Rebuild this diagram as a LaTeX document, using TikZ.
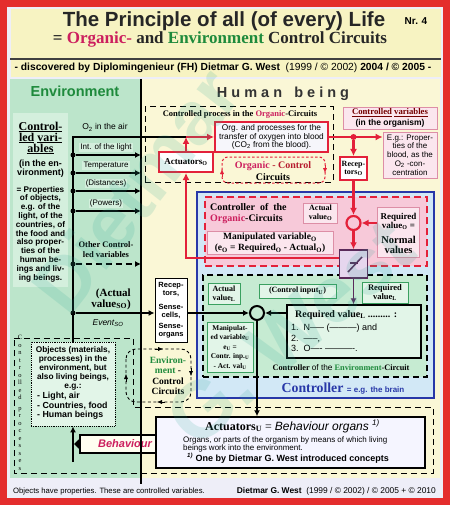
\documentclass[tikz,border=0pt]{standalone}
\usepackage{fontspec}
\setmainfont{Liberation Serif}
\setsansfont{Liberation Sans}
\usepackage{xcolor}
\usetikzlibrary{arrows.meta,calc}

\definecolor{frame}{HTML}{E42D2D}
\definecolor{lav}{HTML}{EEEEF8}
\definecolor{titley}{HTML}{F7F3C2}
\definecolor{envgreen}{HTML}{BCE5CB}
\definecolor{envlight}{HTML}{D4EFDD}
\definecolor{humany}{HTML}{FAF7D6}
\definecolor{orgred}{HTML}{E3213A}
\definecolor{magent}{HTML}{CC1F5E}
\definecolor{darkgreen}{HTML}{1E8A3C}
\definecolor{ctrlblue}{HTML}{2838A8}
\definecolor{lightblue}{HTML}{D2E8F6}
\definecolor{pinkfill}{HTML}{F7C9D9}
\definecolor{pinkpale}{HTML}{FBE6EE}
\definecolor{pinkline}{HTML}{DD8EA6}
\definecolor{greenfill}{HTML}{C6EBD2}
\definecolor{greenpale}{HTML}{E2F5E8}
\definecolor{greenline}{HTML}{3AA060}
\definecolor{limiter}{HTML}{5A2A5A}
\definecolor{limfill}{HTML}{E6D6EE}
\definecolor{wmteal}{HTML}{2FA896}

\newcommand{\fs}[2]{\fontsize{#1}{#2}\selectfont}
\newcommand{\ix}[1]{\textsubscript{#1}}

\begin{document}
\begin{tikzpicture}[x=1pt,y=-1pt]

        \tikzstyle{lbl}      = [inner sep=0pt, anchor=base]
        \tikzstyle{txt}      = [inner sep=0pt, align=center]
        \tikzstyle{box}      = [draw, inner sep=0pt, align=center]
        \tikzstyle{redbox}   = [box, draw=orgred, line width=2pt, fill=lav!50!white]
        \tikzstyle{pinkbox}  = [box, draw=pinkline, line width=0.8pt, fill=pinkpale]
        \tikzstyle{greenbox} = [box, draw=greenline, line width=0.8pt, fill=greenpale]
        \tikzstyle{arr}      = [line width=1.6pt, -{Latex[length=6pt,width=6pt]}]
        \tikzstyle{redarr}   = [draw=orgred, line width=2.2pt, -{Latex[length=7pt,width=7pt]}]
        \tikzstyle{dot}      = [circle, fill=black, inner sep=0pt, minimum size=5pt]
        \tikzstyle{dashline} = [dash pattern=on 6pt off 4pt, line width=1pt]

        \fill [frame] (0,0) rectangle (450,505);
        \fill [lav] (7,7) rectangle (443,498);
        \useasboundingbox (0,0) rectangle (450,505);

        % title
        \fill [titley] (11,9) rectangle (441,77);
        \draw [line width=1.2pt, black!75] (10,59) -- (441,59);
        \node [lbl, font=\sffamily\bfseries\fs{20.5}{22}, text=black!85](title) at (224,27) {The Principle of all (of every) Life};
        \node [lbl, font=\sffamily\bfseries\fs{10}{11}](nr) at (416,25) {Nr. 4};
        \node [lbl, font=\bfseries\fs{17}{19}, text=black!85](subtitle) at (220,44)
                {= \textcolor{magent}{Organic-} and \textcolor{darkgreen}{Environment} Control Circuits};
        \node [lbl, font=\sffamily\fs{10.3}{11}](found) at (223,71)
                {\textbf{- discovered by Diplomingenieur (FH) Dietmar G. West}\ \ (1999 / © 2002) \textbf{2004 / © 2005 -}};

        % the two halves
        \fill [envgreen] (10,79) rectangle (141,478);
        \fill [humany] (141,79) rectangle (440,478);
        \node [lbl, font=\sffamily\bfseries\fs{14.5}{16}, text=darkgreen](envhead) at (75,97) {Environment};
        \node [lbl, font=\sffamily\bfseries\fs{14.5}{16}, text=black!80](humanhead) at (283,98) {H u m a n \ \ b e i n g};

        \fill [envlight] (13,113) rectangle (68,287);
        \node [txt, font=\bfseries\fs{12}{11}](ctrlvar) at (40.5,138) {\underline{Control-}\\\underline{led} \underline{vari-}\\\underline{ables}};
        \node [txt, font=\sffamily\bfseries\fs{9}{9}](inenv) at (40.5,169) {(in the en-\\vironment)};
        \node [txt, font=\sffamily\bfseries\fs{8.2}{8.8}](props) at (40.5,234)
                {= Properties\\of objects,\\e.g. of the\\light, of the\\countries, of\\the food and\\also proper-\\ties of the\\human be-\\ings and liv-\\ing beings.};

        % controlled processes
        \draw [dashline] (14,338) -- (133,338) -- (133,407) -- (433,407) -- (433,473) -- (14,473) -- cycle;
        \node [txt, font=\fs{6.5}{7.5}](cproc) at (20,403) {C\\o\\n\\t\\r\\o\\ll\\e\\d\\[3pt]p\\r\\o\\c\\e\\s\\s\\e\\s};
        \node [draw, densely dotted, line width=0.8pt, fill=greenpale, minimum width=84pt, minimum height=84pt](objects) at (73,384) {};
        \node [txt, font=\sffamily\bfseries\fs{8.3}{9}](objtext) at (73,368) {Objects (materials,\\processes) in the\\environment, but\\also living beings,\\e.g.:};
        \node [anchor=west, align=left, inner sep=0pt, font=\sffamily\bfseries\fs{8.8}{9.5}](objlist) at (37,406) {- Light, air\\- Countries, food\\- Human beings};

        % environment control circuit
        \draw [dash pattern=on 3pt off 2.5pt, line width=0.9pt, rounded corners=10pt] (126,349) rectangle (191,402);
        \draw [-{Latex[length=5pt,width=4pt]}] (155,349) -- (163,349);
        \draw [-{Latex[length=5pt,width=4pt]}] (191,368) -- (191,376);
        \draw [-{Latex[length=5pt,width=4pt]}] (165,402) -- (157,402);
        \draw [-{Latex[length=5pt,width=4pt]}] (126,382) -- (126,374);
        \node [txt, font=\bfseries\fs{9.5}{10.5}](envloop) at (168,376)
                {\textcolor{darkgreen}{Environ-}\\\textcolor{darkgreen}{ment} -\\Control\\Circuits};

        % human being: organic part
        \node [draw, dashline, minimum width=188pt, minimum height=75pt](cproco) at (239,144.5) {};
        \node [lbl, font=\bfseries\fs{8.5}{10}](cplabel) at (240,117) {Controlled process in the \textcolor{magent}{Organic}-Circuits};
        \draw [orgred, dash pattern=on 2.5pt off 2pt, line width=1pt, rounded corners=6pt] (222,157) rectangle (325,183);
        \draw [orgred, -{Latex[length=5pt,width=4pt]}] (222,177) -- (222,169);
        \draw [orgred, -{Latex[length=5pt,width=4pt]}] (325,165) -- (325,173);
        \node [lbl, font=\bfseries\fs{10}{11}](orgloop) at (273,168) {\textcolor{magent}{Organic} \textcolor{orgred!80!black}{- Control}};
        \node [lbl, font=\bfseries\fs{10}{11}](orgloopb) at (273,180) {Circuits};

        \node [redbox, minimum width=113pt, minimum height=30pt, font=\sffamily\fs{8.3}{8.5}](orgproc) at (271.5,137)
                {Org. and processes for the\\transfer of oxygen into blood\\(CO\ix{2} from the blood).};
        \node [redbox, fill=white, minimum width=54pt, minimum height=20pt, font=\bfseries\fs{9}{10}](acto) at (186,162) {Actuators\ix{O}};
        \node [pinkbox, minimum width=94pt, minimum height=22pt](cvorg) at (390,118) {};
        \node [lbl, font=\bfseries\fs{8.7}{10}, text=red!45!black](cvorga) at (390,115) {\underline{Controlled} \underline{variables}};
        \node [lbl, font=\sffamily\bfseries\fs{8.5}{10}](cvorgb) at (390,125.5) {(in the organism)};
        \node [pinkbox, minimum width=54pt, minimum height=46pt, font=\sffamily\fs{8}{8.8}](eg) at (410,155)
                {E.g.: Proper-\\ties of the\\blood, as the\\O\ix{2} -con-\\centration};
        \node [redbox, fill=white, minimum width=27pt, minimum height=23pt, font=\bfseries\fs{8}{8.5}](reco) at (353.5,168.5) {Recep-\\tors\ix{O}};

        % controller
        \node [draw=ctrlblue, line width=2pt, fill=lightblue, minimum width=237pt, minimum height=206pt](brain) at (315.5,295) {};
        \node [draw=orgred, dash pattern=on 7pt off 4pt, line width=1.5pt, fill=pinkfill, minimum width=222pt, minimum height=69pt](orgctrl) at (316,231.5) {};
        \node [draw, dashline, line width=1.2pt, fill=greenfill, minimum width=224pt, minimum height=102pt](envctrl) at (315,326) {};

        \node [lbl, anchor=base west, font=\bfseries\fs{10}{11}](orgctrla) at (210,210) {Controller\ \ of\ \ the};
        \node [lbl, anchor=base west, font=\bfseries\fs{10}{11}](orgctrlb) at (210,221) {\textcolor{magent}{Organic}-Circuits};
        \node [pinkbox, minimum width=34pt, minimum height=20pt, font=\bfseries\fs{8}{9}](actvalo) at (320.5,213) {Actual\\value\ix{O}};
        \node [pinkbox, minimum width=126pt, minimum height=23pt, font=\bfseries\fs{9.5}{11}](manipo) at (270,243)
                {Manipulated variable\ix{O}\\(e\ix{O} = Required\ix{O} - Actual\ix{O})};
        \node [pinkbox, minimum width=42pt, minimum height=50pt](reqo) at (398.5,232.5) {};
        \node [txt, font=\bfseries\fs{9}{9}](reqoa) at (398.5,221) {Required\\value\ix{O} =};
        \node [txt, font=\bfseries\fs{10.5}{10}](reqob) at (398.5,245) {Normal\\values};
        \node [circle, draw=orgred, line width=2.2pt, minimum size=14pt, inner sep=0pt](cmpo) at (353.5,223) {};
        \node [draw=limiter, line width=1.5pt, fill=limfill, minimum size=28pt, inner sep=0pt](limit) at (353.5,264) {};
        \draw [limiter, line width=1.5pt] ($(limit.center)+(-5.5,8)$) -- ($(limit.center)+(8.5,-7)$);
        \draw [limiter, line width=1.5pt] ($(limit.center)+(-3.5,-1)$) -- ($(limit.center)+(4.5,-1)$);

        \node [greenbox, minimum width=32pt, minimum height=21pt, font=\bfseries\fs{8}{9}](actvall) at (224,294) {Actual\\value\ix{L}};
        \node [greenbox, minimum width=77pt, minimum height=14pt, font=\bfseries\fs{8}{9}](ctrlin) at (297.5,291) {(Control input\ix{U})};
        \node [greenbox, minimum width=46pt, minimum height=21pt, font=\bfseries\fs{8.5}{9}](reql) at (385,292.5) {Required\\value\ix{L}};
        \node [box, line width=1.5pt, fill=greenpale, minimum width=134pt, minimum height=53pt](reqbig) at (354,331.5) {};
        \node [lbl, anchor=base west, font=\bfseries\fs{10}{11}](reqline) at (295,317) {Required value\ix{L} ......... :};
        \node [lbl, anchor=base west, font=\sffamily\fs{9}{10}](itema) at (291,330) {1.\ \ N----- (---------) and};
        \node [lbl, anchor=base west, font=\sffamily\fs{9}{10}](itemb) at (291,341) {2.\ \ -----,};
        \node [lbl, anchor=base west, font=\sffamily\fs{9}{10}](itemc) at (291,351) {3.\ \ O---- ----------.};
        \node [greenbox, minimum width=46pt, minimum height=50pt, font=\bfseries\fs{7.3}{9.5}](manipu) at (230,347)
                {Manipulat-\\ed variable\ix{U}\\e\ix{U} =\\Contr. inp.\ix{U}\\- Act. val\ix{U}};
        \node [lbl, font=\fs{8.3}{10}](envctrllbl) at (341,370)
                {\textbf{Controller} \textsf{of the} \textbf{\textcolor{darkgreen}{Environment}-Circuit}};
        \node [lbl, text=ctrlblue](brainlbl) at (343,392) {\bfseries\fs{13.8}{15}Controller \sffamily\fs{8}{10}= e.g. the brain};
        \node [circle, draw, line width=2pt, minimum size=14pt, inner sep=0pt](cmpu) at (257,313) {};

        % actuators of the environment circuit
        \node [box, line width=1.5pt, fill=blue!4!white, minimum width=269pt, minimum height=51pt](actu) at (290.5,442.5) {};
        \node [lbl](actuhead) at (292.5,430) {\bfseries\fs{12}{13}Actuators\ix{U} \mdseries= \sffamily\itshape Behaviour organs \textsuperscript{1)}};
        \node [lbl, anchor=base west, font=\sffamily\fs{8}{9}](actudesc) at (183,442) {Organs, or parts of the organism by means of which living};
        \node [lbl, anchor=base west, font=\sffamily\fs{8}{9}](actudescb) at (183,450) {beings work into the environment.};
        \node [lbl, anchor=base west, font=\sffamily\bfseries\fs{9}{10}](actunote) at (187,461) {\textsuperscript{\itshape 1)} One by Dietmar G. West introduced concepts};
        \node [box, line width=1.5pt, fill=yellow!6!white, minimum width=76pt, minimum height=18pt](behav) at (118,444) {};
        \node [lbl, font=\sffamily\bfseries\itshape\fs{11}{12}, text=magent](behavtxt) at (125,447) {Behaviour};

        % connectors: environment side
        \coordinate (behtip) at (74,444);
        \coordinate (behroot) at (73,462);
        \draw [line width=1.6pt] (objects.north) -- (73,137) -- (acto.north |- orgproc);
        \foreach \y/\nm/\lab in {155/light/{Int. of the light},173/temp/{Temperature},191/dist/{(Distances)},211/pow/{(Powers)}}
        {
                \node [dot](d\nm) at (73,\y) {};
                \coordinate (e\nm) at (141,\y);
                \draw [arr] (d\nm) -- (e\nm);
                \node [lbl, fill=envlight, inner sep=1.2pt, font=\sffamily\fs{8}{9}](l\nm) at (106,\y-5.5) {\lab};
        }
        \node [lbl, font=\sffamily\fs{8.5}{9}](lair) at (105,130) {O\ix{2} in the air};
        \node [dot](dother) at (73,264) {};
        \coordinate (eother) at (141,264);
        \draw [arr, dash pattern=on 6pt off 4pt] (dother) -- (eother);
        \node [txt, font=\bfseries\fs{8.5}{10}](lother) at (106,250) {Other Control-\\led variables};
        \node [dot](dact) at (73,313) {};
        \node [anchor=east, align=right, inner sep=0pt, font=\bfseries\fs{11}{11}](lact) at (131,299) {(Actual\\value\ix{SO})};
        \node [lbl, font=\sffamily\itshape\fs{8.5}{10}](event) at (108,325) {Event\ix{SO}};
        \node [box, fill=white, line width=1pt, minimum width=32pt, minimum height=64pt, font=\sffamily\bfseries\fs{7.5}{8}](recu) at (171,310)
                {Recep-\\tors,\\[6pt]Sense-\\cells,\\[3pt]Sense-\\organs};
        \draw [arr] (dact) -- (dact -| recu.west);
        \draw [arr] (behroot) -- (objects.south);
        \draw [line width=1.5pt, -{Triangle[length=6pt,width=11pt]}] (behav.west) -- (behtip);

        % connectors: organic circuit
        \draw [redarr] (acto.north) -- (acto.north |- orgproc);
        \draw [redarr] (acto.north |- orgproc) -- (orgproc.west);
        \draw [redarr] (orgproc.east) -- (eg.west |- orgproc);
        \node [dot, fill=orgred, minimum size=6pt](split) at (353.5,137) {};
        \draw [redarr] (split) -- (reco.north);
        \draw [redarr] (reco.south) -- (cmpo.north);
        \draw [redarr] (reqo.west |- cmpo) -- (cmpo.east);
        \draw [redarr] (cmpo.south) -- (limit.north);
        \draw [redarr] ($(limit.west)+(0,-6)$) -| (acto.south);
        \draw [line width=1.6pt, limiter, -{Latex[length=6pt,width=6pt]}] (limit.south) -- (limit.south |- reqbig.north);

        % connectors: environment circuit
        \draw [arr] (recu.east |- cmpu) -- (cmpu);
        \draw [arr] (reqbig.west |- cmpu) -- (cmpu);
        \draw [arr] (cmpu) -- (cmpu |- actu.north);

        \draw [line width=2pt] (141,79) -- (141,484);

        % footer
        \node [lbl, anchor=base west, font=\sffamily\fs{7.7}{9}](footl) at (13,493) {Objects have properties. These are controlled variables.};
        \node [lbl, anchor=base east, font=\sffamily\fs{8.4}{9}](footr) at (436,493) {\textbf{Dietmar G. West}\ \ (1999 / © 2002) / © 2005 + © 2010};

        % watermark
        \node [rotate=52, font=\sffamily\bfseries\fs{76}{76}, text=wmteal, text opacity=0.16](wma) at (135,190) {Dietmar};
        \node [rotate=41, font=\sffamily\bfseries\fs{80}{80}, text=wmteal, text opacity=0.16](wmb) at (290,332) {G. West};

\end{tikzpicture}
\end{document}
